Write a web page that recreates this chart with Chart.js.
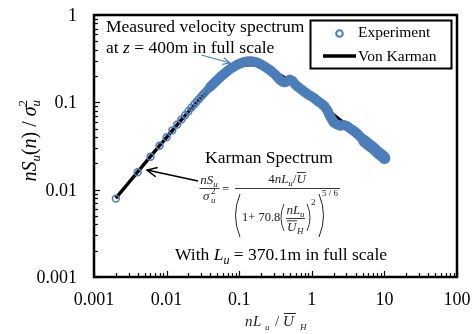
<!DOCTYPE html>
<html>
<head>
<meta charset="utf-8">
<script src="https://cdn.jsdelivr.net/npm/chart.js@4.4.1/dist/chart.umd.min.js"></script>
<style>
  html, body { margin: 0; padding: 0; background: #fff; overflow: hidden; }
  canvas { display: block; }
</style>
</head>
<body>
<canvas id="chart" width="476" height="334"></canvas>
<script>
// axis ticks (log decades)
const xTicks = [0.001, 0.01, 0.1, 1, 10, 100];
const xTickLabels = ['0.001', '0.01', '0.1', '1', '10', '100'];
const yTicks = [0.001, 0.01, 0.1, 1];
const yTickLabels = ['0.001', '0.01', '0.1', '1'];

// Experiment: low-frequency points, read one by one (open circles)
const expX = [0.002, 0.004, 0.006, 0.008, 0.010, 0.012, 0.014, 0.016, 0.018, 0.020,
              0.022, 0.024, 0.026, 0.028, 0.030, 0.032, 0.034, 0.036, 0.038, 0.040,
              0.042, 0.044, 0.046, 0.048, 0.050, 0.052, 0.054, 0.056, 0.058, 0.060];
const expY = [0.0079, 0.0158, 0.0238, 0.0318, 0.0398, 0.0478, 0.0557, 0.0636, 0.0714, 0.0792,
              0.0870, 0.0946, 0.1020, 0.1094, 0.1167, 0.1238, 0.1307, 0.1375, 0.1441, 0.1506,
              0.1569, 0.1631, 0.1691, 0.1750, 0.1808, 0.1863, 0.1918, 0.1970, 0.2021, 0.2070];

// Experiment: dense part, where the circles merge into a solid band
const bandX = [0.04, 0.05, 0.06, 0.07, 0.08, 0.09, 0.10, 0.11, 0.12, 0.13, 0.14, 0.15, 0.17,
               0.19, 0.22, 0.25, 0.28, 0.31, 0.34, 0.37, 0.40, 0.43, 0.46, 0.50, 0.54, 0.58,
               0.63, 0.70, 0.80, 0.90, 1.00, 1.10, 1.20, 1.35, 1.50, 1.65, 1.80, 2.00, 2.20,
               2.50, 2.80, 3.10, 3.40, 3.80, 4.20, 4.70, 5.30, 6.00, 7.00, 8.00, 9.00, 9.60, 10.0];
const bandY = [0.151, 0.181, 0.208, 0.231, 0.249, 0.264, 0.276, 0.285, 0.291, 0.295, 0.296, 0.295, 0.289,
               0.278, 0.260, 0.242, 0.226, 0.210, 0.193, 0.179, 0.171, 0.170, 0.176, 0.182, 0.176, 0.163,
               0.152, 0.143, 0.131, 0.122, 0.116, 0.110, 0.104, 0.097, 0.090, 0.080, 0.068, 0.059, 0.056,
               0.054, 0.055, 0.053, 0.050, 0.047, 0.044, 0.040, 0.036, 0.033, 0.030, 0.027, 0.025, 0.024, 0.023];

// Von Karman curve
const vkX = [0.002, 0.003, 0.005, 0.007, 0.01, 0.015, 0.02, 0.03, 0.04, 0.05, 0.06, 0.07, 0.08, 0.1, 0.12,
             0.15, 0.2, 0.25, 0.3, 0.4, 0.5, 0.7, 1, 1.5, 2, 3, 4, 5, 7, 10];
const vkY = [0.0080, 0.0120, 0.0200, 0.0280, 0.0398, 0.0592, 0.0782, 0.114, 0.146, 0.175, 0.199, 0.219, 0.234, 0.256, 0.267,
             0.271, 0.261, 0.244, 0.227, 0.197, 0.175, 0.142, 0.114, 0.087, 0.072, 0.055, 0.045, 0.039, 0.031, 0.025];

const BLUE = '#4a7ebb';
const SERIF = '"Liberation Serif", "Times New Roman", serif';
const font = (size, italic) => (italic ? 'italic ' : '') + size + 'px ' + SERIF;

const pts = (xs, ys) => xs.map((x, i) => ({ x, y: ys[i] }));

// draw a run of text pieces: [text, size, italic, dy]
function runWidth(ctx, parts) {
  let w = 0;
  for (const p of parts) { ctx.font = font(p[1], p[2]); w += ctx.measureText(p[0]).width; }
  return w;
}
function run(ctx, x, y, parts) {
  for (const p of parts) {
    ctx.font = font(p[1], p[2]);
    ctx.fillText(p[0], x, y + (p[3] || 0));
    x += ctx.measureText(p[0]).width;
  }
  return x;
}
function line(ctx, x1, y1, x2, y2) {
  ctx.beginPath(); ctx.moveTo(x1, y1); ctx.lineTo(x2, y2); ctx.stroke();
}
function paren(ctx, x, y1, y2, bulge) {
  ctx.beginPath(); ctx.moveTo(x, y1); ctx.quadraticCurveTo(x + bulge, (y1 + y2) / 2, x, y2); ctx.stroke();
}
function arrow(ctx, x1, y1, x2, y2, head) {
  line(ctx, x1, y1, x2, y2);
  const a = Math.atan2(y2 - y1, x2 - x1);
  ctx.beginPath();
  ctx.moveTo(x2 - head * Math.cos(a - 0.45), y2 - head * Math.sin(a - 0.45));
  ctx.lineTo(x2, y2);
  ctx.lineTo(x2 - head * Math.cos(a + 0.45), y2 - head * Math.sin(a + 0.45));
  ctx.stroke();
}

const decor = {
  id: 'decor',
  afterDraw(chart) {
    const { ctx, chartArea: a, scales: { x, y } } = chart;
    ctx.save();
    ctx.fillStyle = '#000';
    ctx.strokeStyle = '#000';
    ctx.textBaseline = 'alphabetic';

    // frame
    ctx.lineWidth = 2.5;
    ctx.strokeRect(a.left, a.top, a.right - a.left, a.bottom - a.top);

    // inward ticks
    ctx.lineWidth = 1.2;
    for (let e = -3; e <= 2; e++) {
      for (let m = 1; m <= 9; m++) {
        const v = m * Math.pow(10, e);
        if (v > 100.0001) break;
        const px = Math.round(x.getPixelForValue(v)) + 0.5;
        line(ctx, px, a.bottom, px, a.bottom - (m === 1 ? 6 : 4));
      }
    }
    for (let e = -3; e <= 0; e++) {
      for (let m = 1; m <= 9; m++) {
        const v = m * Math.pow(10, e);
        if (v > 1.0001) break;
        const py = Math.round(y.getPixelForValue(v)) + 0.5;
        line(ctx, a.left, py, a.left + (m === 1 ? 6 : 4), py);
      }
    }

    // tick labels
    ctx.font = font(18, false);
    ctx.textAlign = 'center';
    xTicks.forEach((v, i) => ctx.fillText(xTickLabels[i], x.getPixelForValue(v), 305));
    ctx.textAlign = 'right';
    yTicks.forEach((v, i) => ctx.fillText(yTickLabels[i], 77, y.getPixelForValue(v) + 6));
    ctx.textAlign = 'left';

    // legend
    ctx.lineWidth = 2;
    ctx.strokeRect(310.5, 20.5, 141, 48);
    ctx.strokeStyle = BLUE; ctx.lineWidth = 2;
    ctx.beginPath(); ctx.arc(339.5, 33.5, 3.3, 0, Math.PI * 2); ctx.stroke();
    ctx.strokeStyle = '#000'; ctx.lineWidth = 3.5;
    line(ctx, 323, 56, 356, 56);
    ctx.font = font(15.5, false);
    ctx.fillText('Experiment', 358, 37);
    ctx.fillText('Von Karman', 358, 60.5);

    // top annotation
    ctx.font = font(17.5, false);
    ctx.fillText('Measured velocity spectrum', 106, 32);
    run(ctx, 106, 52.5, [['at ', 17.5, false], ['z', 17.5, true], [' = 400m in full scale', 17.5, false]]);
    ctx.strokeStyle = BLUE; ctx.lineWidth = 1.2;
    arrow(ctx, 201.5, 55, 230, 63, 8);

    // Karman spectrum label + formula
    ctx.fillStyle = '#000';
    ctx.font = font(17.5, false);
    ctx.textAlign = 'center';
    ctx.fillText('Karman Spectrum', 269, 162.5);
    ctx.textAlign = 'left';

    ctx.fillStyle = '#222'; ctx.strokeStyle = '#222'; ctx.lineWidth = 0.9;
    // left fraction
    let p = [['n', 13, true], ['S', 13, true], ['u', 9, true, 3]];
    run(ctx, 209 - runWidth(ctx, p) / 2, 184, p);
    line(ctx, 199.5, 188.5, 219.5, 188.5);
    ctx.font = font(13, true); ctx.fillText('\u03c3', 203, 200);
    ctx.font = font(9, true); ctx.fillText('u', 211, 203);
    ctx.font = font(9, false); ctx.fillText('2', 211, 194);
    ctx.font = font(13, false); ctx.fillText('=', 222, 192.5);
    // main numerator
    p = [['4', 13, false], ['n', 13, true], ['L', 13, true], ['u', 9, true, 3], ['/', 13, false], ['U', 13, true]];
    const nw = runWidth(ctx, p);
    const nx = run(ctx, 287 - nw / 2, 183, p);
    line(ctx, nx - 9, 172.5, nx, 172.5);
    line(ctx, 235, 188.5, 340, 188.5);
    // denominator: big parentheses
    ctx.lineWidth = 1;
    paren(ctx, 240, 194, 237, -9);
    paren(ctx, 319, 194, 237, 9);
    run(ctx, 242, 221, [['1', 12.5, false], ['+', 12.5, false], [' 70.8', 12.5, false]]);
    // inner parentheses with nL_u / U_H
    ctx.lineWidth = 0.9;
    paren(ctx, 284, 204, 231, -6);
    paren(ctx, 307, 204, 231, 6);
    p = [['n', 13, true], ['L', 13, true], ['u', 9, true, 3]];
    run(ctx, 295.5 - runWidth(ctx, p) / 2, 214, p);
    line(ctx, 286, 218.5, 305, 218.5);
    ctx.font = font(13, true); ctx.fillText('U', 287, 231);
    line(ctx, 287, 220.8, 297, 220.8);
    ctx.font = font(9, true); ctx.fillText('H', 297, 234);
    ctx.font = font(9, false); ctx.fillText('2', 311, 205);
    ctx.fillText('5 / 6', 322, 196);

    ctx.strokeStyle = '#000'; ctx.lineWidth = 1.5;
    arrow(ctx, 198, 181, 147, 170, 11);

    // bottom annotation
    ctx.fillStyle = '#000';
    run(ctx, 175, 260, [['With ', 17.5, false], ['L', 17.5, true], ['u', 12, true, 4], [' = 370.1m in full scale', 17.5, false]]);

    // y axis title
    ctx.save();
    ctx.translate(36, 140);
    ctx.rotate(-Math.PI / 2);
    p = [['n', 20, true], ['S', 20, true], ['u', 13, true, 4], ['(', 20, false], ['n', 20, true], [')', 20, false], [' / ', 20, false], ['\u03c3', 20, true]];
    const tw = runWidth(ctx, p) + 8;
    const ex = run(ctx, -tw / 2, 0, p);
    ctx.font = font(13, true); ctx.fillText('u', ex, 4);
    ctx.font = font(13, false); ctx.fillText('2', ex, -9);
    ctx.restore();

    // x axis title
    ctx.fillStyle = '#222';
    ctx.font = font(15, true);
    ctx.fillText('n', 245, 326);
    ctx.fillText('L', 253, 326);
    ctx.fillText('U', 283, 326);
    ctx.font = font(15, false);
    ctx.fillText('/', 275, 326);
    ctx.font = font(9, true);
    ctx.fillText('u', 265, 330);
    ctx.fillText('H', 300, 330);
    ctx.strokeStyle = '#222'; ctx.lineWidth = 1;
    line(ctx, 284, 313.5, 296, 313.5);

    ctx.restore();
  }
};

new Chart(document.getElementById('chart'), {
  type: 'scatter',
  data: {
    datasets: [
      {
        label: 'Von Karman',
        data: pts(vkX, vkY),
        showLine: true,
        borderColor: '#000',
        borderWidth: 3.5,
        pointRadius: 0,
        order: 3
      },
      {
        label: 'band',
        data: pts(bandX, bandY),
        showLine: true,
        borderColor: BLUE,
        borderWidth: 10,
        borderCapStyle: 'round',
        borderJoinStyle: 'round',
        segment: { borderWidth: c => (c.p0.parsed.x >= 5 ? 12 : 10) },
        pointRadius: 0,
        order: 2
      },
      {
        label: 'Experiment',
        data: pts(expX, expY),
        showLine: false,
        pointRadius: 3.4,
        pointBorderWidth: 1.6,
        pointBorderColor: BLUE,
        pointBackgroundColor: 'rgba(0,0,0,0)',
        order: 1
      }
    ]
  },
  options: {
    responsive: false,
    animation: false,
    devicePixelRatio: 1,
    layout: { padding: { top: 15, right: 19, left: 0, bottom: 0 } },
    plugins: { legend: { display: false }, tooltip: { enabled: false } },
    scales: {
      x: {
        type: 'logarithmic',
        min: 0.001, max: 100,
        grid: { display: false, drawTicks: false },
        border: { display: false },
        ticks: { display: false },
        afterFit: s => { s.height = 57; }
      },
      y: {
        type: 'logarithmic',
        min: 0.001, max: 1,
        grid: { display: false, drawTicks: false },
        border: { display: false },
        ticks: { display: false },
        afterFit: s => { s.width = 94; }
      }
    }
  },
  plugins: [decor]
});
</script>
</body>
</html>
